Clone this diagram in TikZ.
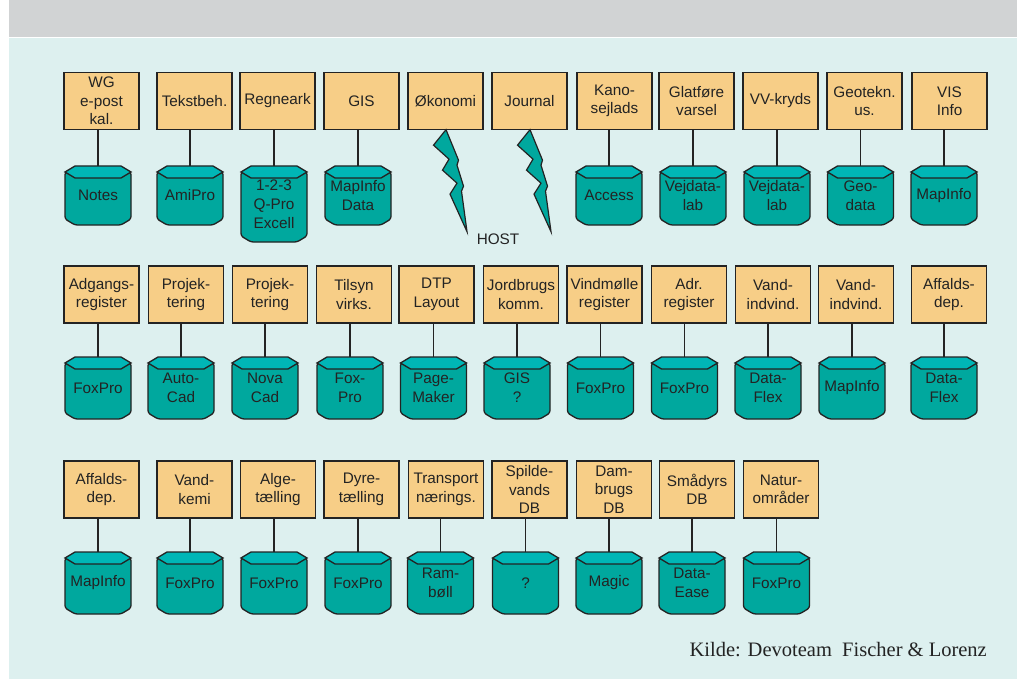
\documentclass[tikz,border=0pt]{standalone}
\usepackage{fontspec}
\setmainfont{Liberation Sans}
\newfontfamily\kildefont{Liberation Serif}
\definecolor{boxfill}{RGB}{247,206,135}
\definecolor{dbbodyc}{RGB}{0,168,158}
\definecolor{dbtopc}{RGB}{0,182,182}
\definecolor{bgcyan}{RGB}{221,240,239}
\definecolor{bandgray}{RGB}{209,211,212}
\definecolor{ink}{RGB}{35,35,35}
\tikzset{
  app/.style={draw=ink, line width=1.3pt, fill=boxfill, minimum width=75pt, minimum height=57pt,
    inner sep=0pt, align=center, font=\fontsize{15.3}{18.5}\selectfont, text=ink},
  dbtxt/.style={minimum width=66pt, inner sep=0pt, align=center, font=\fontsize{15.3}{19}\selectfont, text=ink},
  dbbody/.style={draw=ink, line width=1.3pt, fill=dbbodyc, rounded corners=2.5pt},
  dbtop/.style={draw=ink, line width=1.3pt, fill=dbtopc},
  link/.style={draw=ink, line width=1.5pt},
  bolt/.style={draw=ink, line width=1.2pt, fill=dbbodyc, line join=miter},
}
\newcommand\dbcyl[5]{% name, cx, ytop, ybot, text
  \pgfmathsetmacro\dbL{#2-33}\pgfmathsetmacro\dbR{#2+33}%
  \pgfmathsetmacro\dbLi{#2-23}\pgfmathsetmacro\dbRi{#2+23}%
  \pgfmathsetmacro\dbYm{#3+6}\pgfmathsetmacro\dbYl{#3+12}%
  \pgfmathsetmacro\dbBm{#4-6}\pgfmathsetmacro\dbH{#4-#3}\pgfmathsetmacro\dbC{(#3+#4)/2}%
  \path[dbbody] (\dbL,\dbYm) -- (\dbL,\dbBm) -- (\dbLi,#4) -- (\dbRi,#4) -- (\dbR,\dbBm) -- (\dbR,\dbYm) -- cycle;
  \path[dbtop] (\dbL,\dbYm) -- (\dbLi,#3) -- (\dbRi,#3) -- (\dbR,\dbYm) -- (\dbRi,\dbYl) -- (\dbLi,\dbYl) -- cycle;
  \node[dbtxt, minimum height=\dbH pt] (#1) at (#2,\dbC) {#5};
}
\newcommand\boltfrom[1]{%
  \begin{scope}[shift={(#1.south)}]
    \path[bolt] (0.5,-0.5) -- (-12,15) -- (3.5,29) -- (-3,40) -- (11.5,53) -- (4.5,64) -- (21.5,101.5)
      -- (16,61) -- (18,56) -- (11.5,35) -- (13,30) -- cycle;
  \end{scope}
}
\begin{document}
\begin{tikzpicture}[x=1pt,y=-1pt]
\useasboundingbox (0,0) rectangle (1017,679);
\fill[bandgray] (9,0) rectangle (1017,37.5);
\fill[bgcyan] (9,38.5) rectangle (1017,679);

% Row 1
\foreach \x/\t [count=\i] in {101.5/{WG\\e-post\\kal.}, 194.5/{Tekstbeh.}, 277.5/{Regneark}, 361.5/{GIS},
  445.5/{Økonomi}, 529.5/{Journal}, 614.5/{Kano-\\sejlads}, 696.5/{Glatføre\\varsel},
  780.5/{VV-kryds}, 864.5/{Geotekn.\\us.}, 949.5/{VIS\\Info}}
  {\node[app] (a\i) at (\x,101) {\t};}
\foreach \i/\x/\b/\t in {1/98/225/{Notes}, 2/190/225/{AmiPro}, 3/274/242/{1-2-3\\Q-Pro\\Excell},
  4/358/225/{MapInfo\\Data}, 7/609/225/{Access}, 8/693/225/{Vejdata-\\lab}, 9/777/225/{Vejdata-\\lab},
  10/860.5/225/{Geo-\\data}, 11/944/225/{MapInfo}}
  {\dbcyl{d\i}{\x}{166}{\b}{\t}
   \draw[link] (d\i.north |- a\i.south) -- (d\i.north);}
\boltfrom{a5}
\boltfrom{a6}
\node[font=\fontsize{15.3}{18}\selectfont, text=ink, inner sep=0pt] (host) at (498,239.5) {HOST};

% Row 2
\foreach \x/\t/\c/\u [count=\i] in {101.5/{Adgangs-\\register}/98/{FoxPro}, 186/{Projek-\\tering}/181/{Auto-\\Cad},
  270/{Projek-\\tering}/265/{Nova\\Cad}, 354/{Tilsyn\\virks.}/350/{Fox-\\Pro},
  436.5/{DTP\\Layout}/433.5/{Page-\\Maker}, 521/{Jordbrugs\\komm.}/517/{GIS\\?},
  604.5/{Vindmølle\\register}/600.5/{FoxPro}, 689/{Adr.\\register}/684.5/{FoxPro},
  773/{Vand-\\indvind.}/768/{Data-\\Flex}, 856/{Vand-\\indvind.}/852/{MapInfo},
  949/{Affalds-\\dep.}/944/{Data-\\Flex}}
  {\node[app] (b\i) at (\x,294.5) {\t};
   \dbcyl{e\i}{\c}{357}{419}{\u}
   \draw[link] (e\i.north |- b\i.south) -- (e\i.north);}

% Row 3
\foreach \x/\t/\c/\u [count=\i] in {101.5/{Affalds-\\dep.}/98/{MapInfo}, 194.5/{Vand-\\kemi}/190/{FoxPro},
  278/{Alge-\\tælling}/274/{FoxPro}, 361.5/{Dyre-\\tælling}/358/{FoxPro},
  446/{Transport\\nærings.}/440.5/{Ram-\\bøll}, 529.5/{Spilde-\\vands\\DB}/525.5/{?},
  614/{Dam-\\brugs\\DB}/609/{Magic}, 697/{Smådyrs\\DB}/692/{Data-\\Ease},
  781/{Natur-\\områder}/776.5/{FoxPro}}
  {\node[app] (c\i) at (\x,489.5) {\t};
   \dbcyl{f\i}{\c}{552}{614}{\u}
   \draw[link] (f\i.north |- c\i.south) -- (f\i.north);}

\node[anchor=base east, font=\kildefont\fontsize{20.5}{24}\selectfont, text=ink, inner sep=0pt] (src)
  at (987,656) {Kilde: Devoteam\ \ Fischer \& Lorenz};
\end{tikzpicture}
\end{document}
